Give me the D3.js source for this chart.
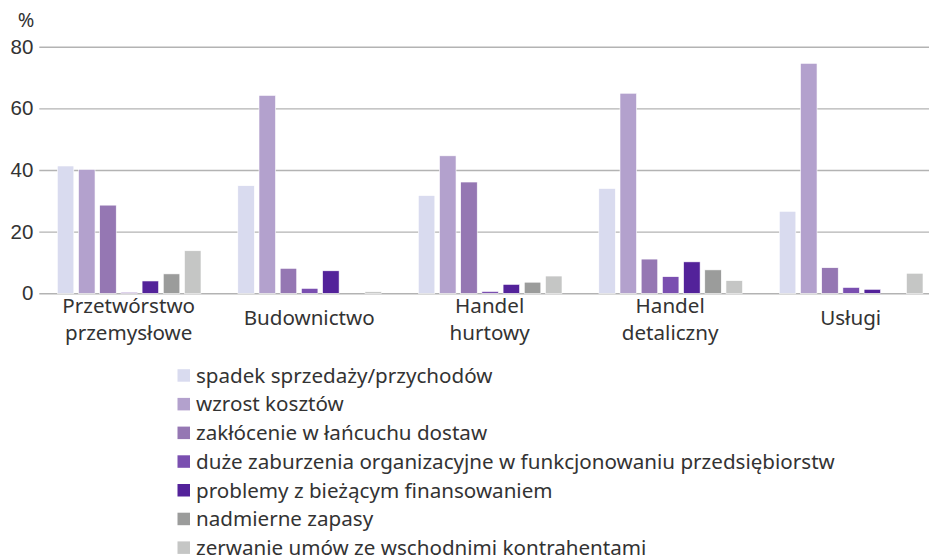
<!DOCTYPE html>
<html><head><meta charset="utf-8">
<script src="https://cdn.jsdelivr.net/npm/d3@7"></script>
<style>
html,body{margin:0;padding:0;background:#fff;}
svg{display:block;font-family:"Noto Sans",Roboto,sans-serif;}
</style></head>
<body><svg id="c" width="929" height="557"></svg>
<script>
const categories = [["Przetwórstwo","przemysłowe"],["Budownictwo"],["Handel","hurtowy"],["Handel","detaliczny"],["Usługi"]];
const seriesNames = ["spadek sprzedaży/przychodów","wzrost kosztów","zakłócenie w łańcuchu dostaw","duże zaburzenia organizacyjne w funkcjonowaniu przedsiębiorstw","problemy z bieżącym finansowaniem","nadmierne zapasy","zerwanie umów ze wschodnimi kontrahentami"];
const spadek     = [41.3, 34.9, 31.7, 34.0, 26.6];
const wzrost     = [40.2, 64.2, 44.6, 64.9, 74.6];
const zaklocenie = [28.6, 8.1, 36.1, 11.1, 8.3];
const zaburzenia = [0.3, 1.6, 0.6, 5.4, 1.9];
const problemy   = [4.0, 7.3, 2.9, 10.2, 1.3];
const zapasy     = [6.3, 0, 3.6, 7.6, 0];
const zerwanie   = [13.8, 0.5, 5.6, 4.1, 6.5];
const seriesValues = [spadek, wzrost, zaklocenie, zaburzenia, problemy, zapasy, zerwanie];
const colors = ["#d9dbef","#b3a1cd","#9577b3","#7a4fb0","#53229a","#9b9c9b","#c5c6c5"];
const yTicks = [0,20,40,60,80];

const svg = d3.select("#c");
const catKeys = categories.map(c => c.join(" "));
const left = 39.3, right = 929;
const x0 = d3.scaleBand().domain(catKeys).range([40.8, 40.8 + 5*180.5]).padding(0);
const x1 = d3.scaleBand().domain(seriesNames).range([16.5, 16.5 + 143.7]).paddingInner(0.22).paddingOuter(0);
const y = d3.scaleLinear().domain([0,80]).range([293.3, 46.7]);
const textColor = "#333";

// grid + y axis
const yAxis = d3.axisLeft(y).tickValues(yTicks).tickSize(-(right-left)).tickPadding(6).tickFormat(d3.format("d"));
const ga = svg.append("g").attr("transform",`translate(${left},0)`).call(yAxis);
ga.select(".domain").remove();
ga.selectAll(".tick line").attr("stroke","#b3b3b3").attr("stroke-width",1.4);
ga.selectAll(".tick text").attr("fill",textColor).attr("font-size",20.5).attr("x",-6);

svg.append("text").attr("x",26).attr("y",27).attr("text-anchor","middle")
  .attr("fill",textColor).attr("font-size",20).text("%");

// bars
const groups = svg.append("g").selectAll("g").data(catKeys).join("g")
  .attr("transform", d => `translate(${x0(d)},0)`);
groups.selectAll("rect").data((d,i) => seriesNames.map((s,j) => ({s, v: seriesValues[j][i], c: colors[j]})))
  .join("rect")
  .attr("x", d => x1(d.s)).attr("width", x1.bandwidth())
  .attr("y", d => y(d.v)).attr("height", d => y(0) - y(d.v))
  .attr("fill", d => d.c).attr("stroke","#fff").attr("stroke-width",0.6);

// category labels
categories.forEach((c,i) => {
  const cx = x0(catKeys[i]) + 16.5 + 143.7/2 - 0.5;
  const t = svg.append("text").attr("text-anchor","middle").attr("fill",textColor).attr("font-size",20.6);
  if (c.length === 1) {
    t.append("tspan").attr("x",cx).attr("y",325).text(c[0]);
  } else {
    c.forEach((line,k) => t.append("tspan").attr("x",cx).attr("y",313 + k*27).text(line));
  }
});

// legend
const lg = svg.append("g").selectAll("g").data(seriesNames).join("g")
  .attr("transform",(d,i) => `translate(177.5,${375.5 + i*28.7})`);
lg.append("rect").attr("x",0).attr("y",-6.3).attr("width",12.5).attr("height",12.5).attr("fill",(d,i)=>colors[i]);
lg.append("text").attr("x",18.5).attr("y",7.2).attr("fill",textColor).attr("font-size",20.6).text(d=>d);
</script></body></html>
